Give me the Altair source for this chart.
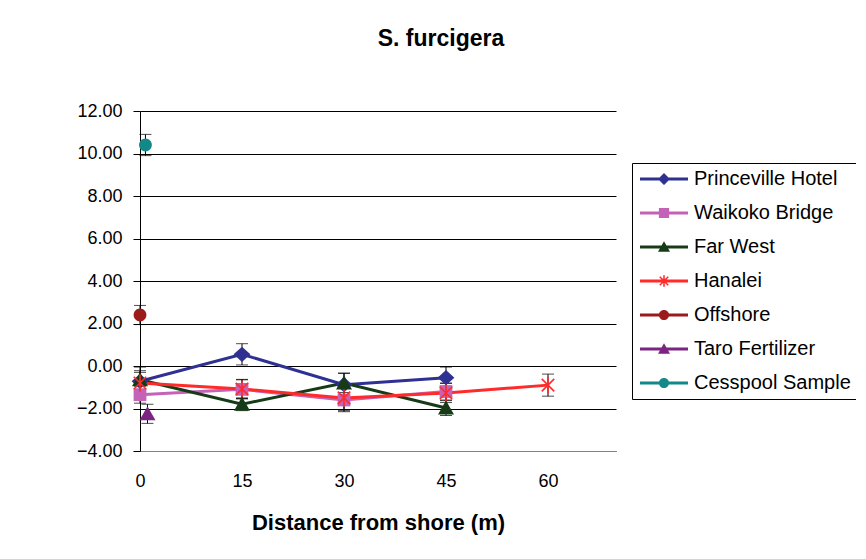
import math
import altair as alt
import pandas as pd

# ---------------- data ----------------
series_names = ["Princeville Hotel", "Waikoko Bridge", "Far West", "Hanalei",
                "Offshore", "Taro Fertilizer", "Cesspool Sample"]
series_colors = ["#2E3192", "#C462B8", "#173B17", "#FF2A2A",
                 "#9B1B1B", "#7B2481", "#138888"]

princeville_x = [0, 15, 30, 45]
princeville_y = [-0.72, 0.55, -0.88, -0.55]
princeville_e = [0.50, 0.50, 0.55, 0.50]

waikoko_x = [0, 15, 30, 45]
waikoko_y = [-1.35, -1.10, -1.60, -1.20]
waikoko_e = [0.40, 0.45, 0.55, 0.40]

farwest_x = [0, 15, 30, 45]
farwest_y = [-0.65, -1.80, -0.80, -1.98]
farwest_e = [0.60, 0.30, 0.45, 0.35]

hanalei_x = [0, 15, 30, 45, 60]
hanalei_y = [-0.80, -1.08, -1.50, -1.27, -0.90]
hanalei_e = [0.50, 0.45, 0.60, 0.45, 0.52]

offshore_x = [0]
offshore_y = [2.40]
offshore_e = [0.45]

taro_x = [1.1]
taro_y = [-2.25]
taro_e = [0.45]

cesspool_x = [0.8]
cesspool_y = [10.40]
cesspool_e = [0.50]

y_ticks = [-4, -2, 0, 2, 4, 6, 8, 10, 12]
x_ticks = [0, 15, 30, 45, 60]

# ---------------- table ----------------
rows = []
groups = [(princeville_x, princeville_y, princeville_e),
          (waikoko_x, waikoko_y, waikoko_e),
          (farwest_x, farwest_y, farwest_e),
          (hanalei_x, hanalei_y, hanalei_e),
          (offshore_x, offshore_y, offshore_e),
          (taro_x, taro_y, taro_e),
          (cesspool_x, cesspool_y, cesspool_e)]
for i, (name, (xs, ys, es)) in enumerate(zip(series_names, groups)):
    for x, y, e in zip(xs, ys, es):
        rows.append({"series": name, "order": i, "x": x, "y": y,
                     "lo": y - e, "hi": y + e})
df = pd.DataFrame(rows)

# ---------------- marker paths ----------------
def f(v):
    return f"{v:.3f}"

def diamond(hx, hy):
    return f"M0,{f(-hy)}L{f(hx)},0L0,{f(hy)}L{f(-hx)},0Z"

def square(h):
    return f"M{f(-h)},{f(-h)}L{f(h)},{f(-h)}L{f(h)},{f(h)}L{f(-h)},{f(h)}Z"

def triangle(hx, top, bot):
    return f"M0,{f(-top)}L{f(hx)},{f(bot)}L{f(-hx)},{f(bot)}Z"

def circle(r):
    return f"M{f(-r)},0A{f(r)},{f(r)} 0 1,1 {f(r)},0A{f(r)},{f(r)} 0 1,1 {f(-r)},0Z"

def bar(angle_deg, half, w):
    a = math.radians(angle_deg)
    c, s = math.cos(a), math.sin(a)
    px, py = -s * w, c * w
    pts = [(c * half + px, s * half + py), (-c * half + px, -s * half + py),
           (-c * half - px, -s * half - py), (c * half - px, s * half - py)]
    area = sum(pts[i][0] * pts[(i + 1) % 4][1] - pts[(i + 1) % 4][0] * pts[i][1]
               for i in range(4))
    if area < 0:
        pts = pts[::-1]
    return "M" + "L".join(f"{f(x)},{f(y)}" for x, y in pts) + "Z"

def asterisk(half, w):
    return bar(90, half, w) + bar(45, half * 1.05, w) + bar(-45, half * 1.05, w)

plot_shapes = [diamond(1.05, 0.95), square(0.8), triangle(1.0, 0.95, 0.8),
               asterisk(1.05, 0.1), circle(0.8), triangle(1.0, 0.95, 0.8),
               circle(0.8)]

line_rect = "M-4,-0.25L4,-0.25L4,0.25L-4,0.25Z"
legend_shapes = [line_rect + diamond(1.0, 1.0), line_rect + square(0.85),
                 line_rect + triangle(1.0, 0.95, 0.8), line_rect + asterisk(0.95, 0.13),
                 line_rect + circle(0.85), line_rect + triangle(1.0, 0.95, 0.8),
                 line_rect + circle(0.85)]

FONT = "Liberation Sans"

x_enc = alt.X("x:Q", scale=alt.Scale(domain=[0, 70], nice=False, zero=False),
              axis=alt.Axis(values=x_ticks, grid=False, ticks=False, labelFontSize=18,
                            labelFont=FONT, labelColor="#000", labelPadding=21,
                            domainColor="#808080", labelFlush=False,
                            title="Distance from shore (m)", titleFont=FONT,
                            titleFontSize=22, titleFontWeight="bold", titleColor="#000",
                            titlePadding=22))
y_enc = alt.Y("y:Q", scale=alt.Scale(domain=[-4, 12], nice=False),
              axis=alt.Axis(values=y_ticks, format=".2f", grid=True, gridColor="#000",
                            gridOpacity=1, tickColor="#000", tickSize=7,
                            domainColor="#000", labelFontSize=18, labelFont=FONT,
                            labelColor="#000", labelPadding=11, title=None))

def cscale():
    return alt.Scale(domain=series_names, range=series_colors)

base = alt.Chart(df)

err_rule = base.mark_rule(color="#000", strokeWidth=1).encode(
    x=x_enc, y=alt.Y("lo:Q"), y2="hi:Q")
cap_lo = base.mark_tick(color="#000", size=12, thickness=1, orient="horizontal").encode(
    x="x:Q", y="lo:Q")
cap_hi = base.mark_tick(color="#000", size=12, thickness=1, orient="horizontal").encode(
    x="x:Q", y="hi:Q")

lines = base.mark_line(strokeWidth=3).encode(
    x="x:Q", y=y_enc,
    color=alt.Color("series:N", scale=cscale(), legend=None),
    detail="series:N", order="x:Q")

points = base.mark_point(filled=True, size=256, opacity=1).encode(
    x="x:Q", y="y:Q",
    color=alt.Color("series:N", scale=cscale(), legend=None),
    shape=alt.Shape("series:N", scale=alt.Scale(domain=series_names, range=plot_shapes),
                    legend=None),
    order="order:Q")

legend_layer = base.mark_point(filled=True, size=144, opacity=1).encode(
    x="x:Q", y="y:Q",
    color=alt.Color("series:N", scale=cscale(), legend=alt.Legend(title=None)),
    shape=alt.Shape("series:N", scale=alt.Scale(domain=series_names, range=legend_shapes),
                    legend=alt.Legend(title=None)),
).transform_filter("false")

chart = alt.layer(err_rule, cap_lo, cap_hi, lines, points, legend_layer).resolve_scale(
    shape="independent", color="independent"
).properties(
    width=476, height=340,
    title=alt.TitleParams("S. furcigera", font=FONT, fontSize=23, fontWeight="bold",
                          color="#000", anchor="middle", dx=63, offset=51),
    autosize=alt.AutoSizeParams(type="none"),
    padding={"left": 132, "top": 103, "right": 240, "bottom": 95},
).configure_view(stroke=None).configure_legend(
    orient="none", legendX=492, legendY=52, strokeColor="#000", fillColor="#fff",
    padding=6, symbolSize=144, symbolStrokeWidth=0, symbolOffset=16,
    labelOffset=20, labelFont=FONT, labelFontSize=20, labelColor="#000",
    labelLimit=0, rowPadding=14, symbolOpacity=1
)

chart.save("out.html", embed_options={"renderer": "svg", "actions": False})
